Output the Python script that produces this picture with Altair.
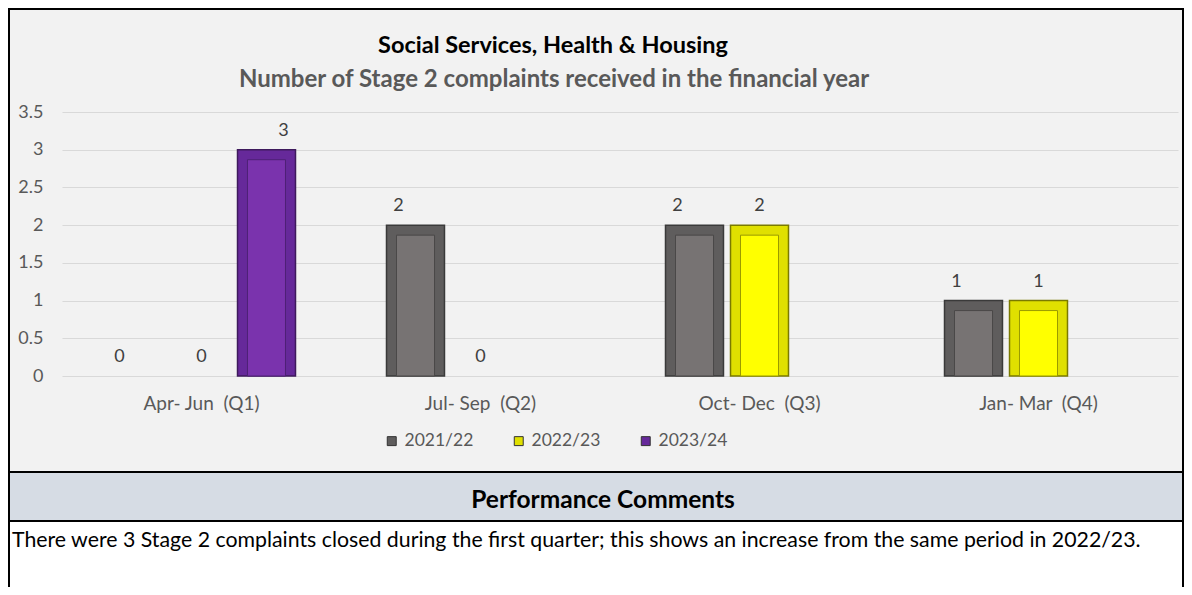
import altair as alt
import pandas as pd

# ---- data ----
quarters = ["Apr- Jun\u00a0 (Q1)", "Jul- Sep\u00a0 (Q2)", "Oct- Dec\u00a0 (Q3)", "Jan- Mar\u00a0 (Q4)"]
series = ["2021/22", "2022/23", "2023/24"]
v_2021_22 = [0, 2, 2, 1]
v_2022_23 = [0, 0, 2, 1]
v_2023_24 = [3, None, None, None]
y_ticks = [0, 0.5, 1, 1.5, 2, 2.5, 3, 3.5]

title_text = "Social Services, Health & Housing"
subtitle_text = "Number of Stage 2 complaints received in the financial year"
header_text = "Performance Comments"
comment_text = ("There were 3 Stage 2 complaints closed during the first quarter; "
                "this shows an increase from the same period in 2022/23.")

rows = []
for s, vals in zip(series, [v_2021_22, v_2022_23, v_2023_24]):
    for q, v in zip(quarters, vals):
        if v is not None:
            rows.append({"quarter": q, "series": s, "value": v})
df = pd.DataFrame(rows)

# ---- styles ----
FONT = "Lato"
main_colors = ["#777373", "#ffff00", "#7a33ad"]
bevel_colors = ["#5f5d5d", "#e0e000", "#66299a"]
edge_colors = ["#3a3a3a", "#7a7a00", "#3e1a5c"]
inner_edge = ["#4a4848", "#9a9a00", "#4e2176"]

W, H = 1116, 264
PAD_L, PAD_T = 54, 104
SVG_W, SVG_H = 1176, 579

x_enc = alt.X("quarter:N", sort=quarters, title=None,
              scale=alt.Scale(paddingInner=0, paddingOuter=0),
              axis=alt.Axis(labelAngle=0, labelFontSize=19, labelColor="#595959",
                            labelFont=FONT, ticks=False, tickSize=0, domain=False,
                            labelPadding=18, grid=False))
xo_outer = alt.XOffset("series:N", sort=series,
                       scale=alt.Scale(paddingInner=0.108, paddingOuter=0.70))
xo_inner = alt.XOffset("series:N", sort=series,
                       scale=alt.Scale(paddingInner=0.415, paddingOuter=0.854))
y_enc = alt.Y("value:Q", stack=None, title=None,
              scale=alt.Scale(domain=[0, 3.5], nice=False),
              axis=alt.Axis(values=y_ticks, format="~g", labelFontSize=18,
                            labelColor="#595959", labelFont=FONT, ticks=False,
                            tickSize=0, domain=False, labelPadding=19,
                            gridColor="#d9d9d9", gridWidth=1))

base = alt.Chart(df)
bars_data = base.transform_filter("datum.value > 0")

outer = bars_data.mark_bar(strokeWidth=1.5).encode(
    x=x_enc, xOffset=xo_outer, y=y_enc,
    fill=alt.Fill("series:N", sort=series,
                  scale=alt.Scale(domain=series, range=bevel_colors),
                  legend=alt.Legend(title=None, orient="none", direction="horizontal",
                                    legendX=321, legendY=320, symbolType="square",
                                    symbolSize=80, symbolStrokeColor="#333333",
                                    symbolStrokeWidth=1, labelFontSize=17.5,
                                    labelColor="#595959", labelFont=FONT,
                                    columnPadding=36, labelOffset=4)),
    stroke=alt.Stroke("series:N", sort=series,
                      scale=alt.Scale(domain=series, range=edge_colors), legend=None),
)

inner = bars_data.mark_bar(yOffset=10, y2Offset=-9, strokeWidth=1).encode(
    x=x_enc, xOffset=xo_inner, y=y_enc,
    color=alt.Color("series:N", sort=series,
                    scale=alt.Scale(domain=series, range=main_colors), legend=None),
    stroke=alt.Stroke("series:N", sort=series,
                      scale=alt.Scale(domain=series, range=inner_edge), legend=None),
)
bars = alt.layer(outer, inner).resolve_scale(xOffset="independent", stroke="independent")

labels = base.mark_text(dy=-19, fontSize=18, color="#404040", font=FONT).encode(
    x=x_enc, xOffset=xo_outer, y=y_enc, text=alt.Text("value:Q"),
)

one = alt.Data(values=[{}])

def rect(x, x2, y, y2, color):
    return alt.Chart(one).mark_rect(color=color).encode(
        x=alt.value(x), x2=alt.value(x2), y=alt.value(y), y2=alt.value(y2))

def rule(x, x2, y, y2, w=2):
    return alt.Chart(one).mark_rule(color="#000000", strokeWidth=w).encode(
        x=alt.value(x), x2=alt.value(x2), y=alt.value(y), y2=alt.value(y2))

def label(text, x, y, size, color, weight="normal", align="center"):
    return alt.Chart(one).mark_text(fontSize=size, fontWeight=weight, font=FONT,
                                    color=color, align=align, baseline="middle").encode(
        x=alt.value(x), y=alt.value(y), text=alt.value(text))

left, right = -PAD_L, SVG_W - PAD_L
top, bottom = -PAD_T, SVG_H - PAD_T
y_head_top, y_head_bot = 360, 409

decor = [
    rect(left, right, y_head_top, y_head_bot, "#d6dce4"),
    rect(left, right, y_head_bot, bottom, "#ffffff"),
    rule(left + 1, left + 1, top, bottom),
    rule(right - 1, right - 1, top, bottom),
    rule(left, right, top + 1, top + 1),
    rule(left, right, y_head_top, y_head_top),
    rule(left, right, y_head_bot, y_head_bot),
]

texts = [
    label(title_text, 491, -66, 23.5, "#000000", "bold"),
    label(subtitle_text, 492, -32, 24, "#595959", "bold"),
    label(header_text, 541, 389, 24.5, "#000000", "bold"),
    label(comment_text, -50, 429, 21.3, "#000000", align="left"),
]

chart = alt.layer(*decor, bars, labels, *texts).properties(
    width=W, height=H,
    autosize=alt.AutoSizeParams(type="none"),
    padding={"left": PAD_L, "top": PAD_T, "right": SVG_W - PAD_L - W,
             "bottom": SVG_H - PAD_T - H},
).configure(background="#f2f2f2").configure_view(stroke=None)

chart.save("out.html", embed_options={"renderer": "svg", "actions": False})
